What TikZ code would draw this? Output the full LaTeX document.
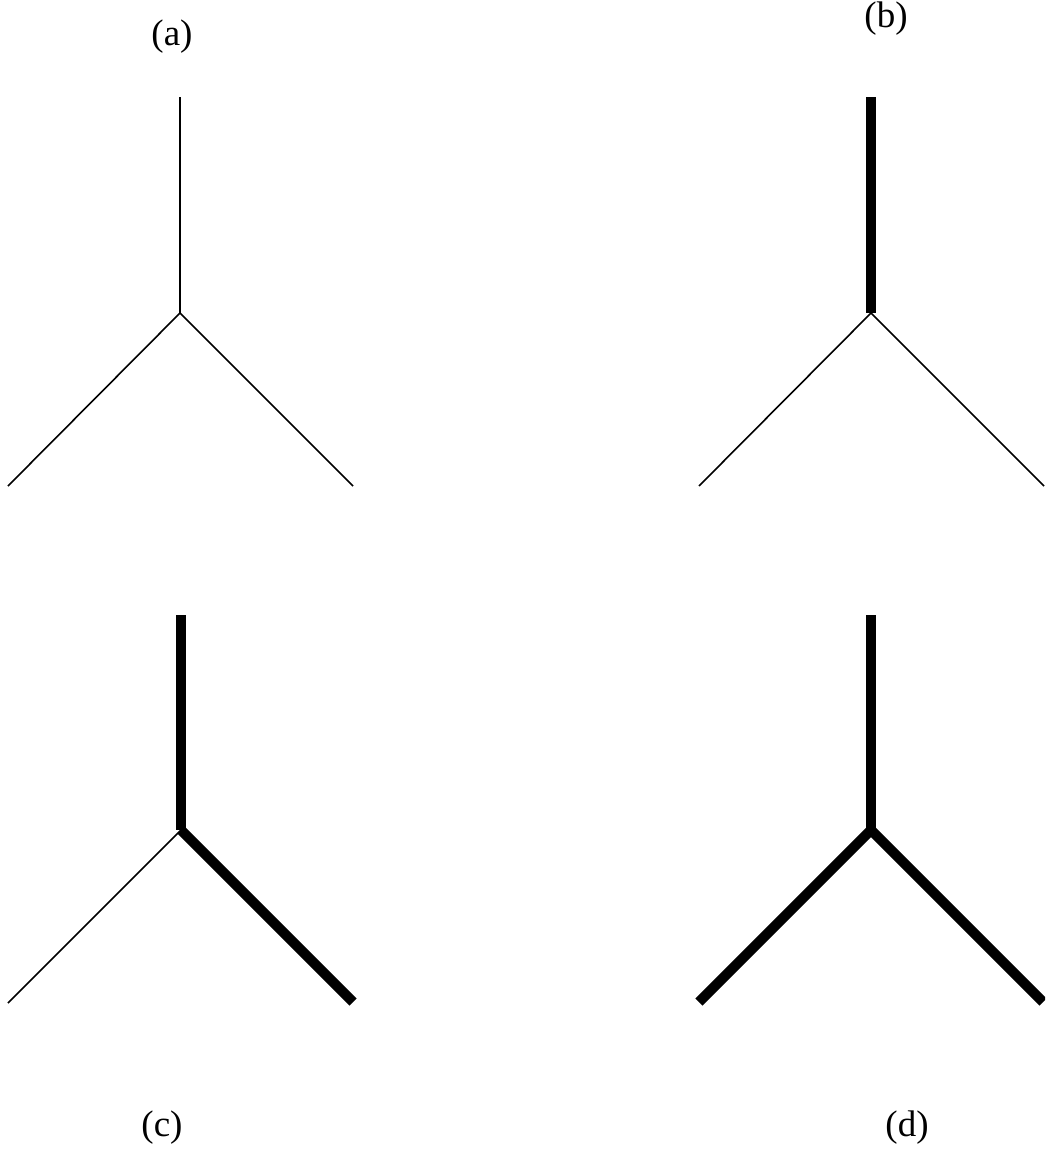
\documentclass[tikz,border=0pt]{standalone}
\usepackage{fontspec}
\setmainfont{Liberation Serif}
\begin{document}
\begin{tikzpicture}[x=1pt,y=-1pt,
  thinline/.style={line width=1.6pt},
  thickline/.style={line width=10pt, line cap=butt},
  lab/.style={font=\fontsize{37}{42}\selectfont, inner sep=0pt}]
\useasboundingbox (0,0) rectangle (1045,1162);
\clip (0,0) rectangle (1045,1162);
% tree a
\coordinate (aT) at (180,97); \coordinate (aJ) at (180,313);
\coordinate (aL) at (8,486); \coordinate (aR) at (353,486);
\draw[thinline] (aT) -- (aJ); \draw[thinline] (aJ) -- (aL); \draw[thinline] (aJ) -- (aR);
% tree b
\coordinate (bT) at (871,97); \coordinate (bJ) at (871,313);
\coordinate (bL) at (699,486); \coordinate (bR) at (1044,486);
\draw[thickline] (bT) -- (bJ); \draw[thinline] (bJ) -- (bL); \draw[thinline] (bJ) -- (bR);
% tree c
\coordinate (cT) at (181,615); \coordinate (cJ) at (181,830);
\coordinate (cL) at (8,1003); \coordinate (cR) at (353,1002);
\draw[thinline] (cJ) -- (cL);
\draw[thickline] (cT) -- (cJ); \draw[thickline] (cJ) -- (cR);
% tree d
\coordinate (dT) at (871,615); \coordinate (dJ) at (871,830);
\coordinate (dL) at (699,1002); \coordinate (dR) at (1043,1002);
\draw[thickline] (dT) -- (dJ); \draw[thickline] (dJ) -- (dL); \draw[thickline] (dJ) -- (dR);
% labels
\node[lab] (la) at (172,37) {(a)};
\node[lab] (lb) at (886,19) {(b)};
\node[lab] (lc) at (162,1128) {(c)};
\node[lab] (ld) at (907,1128) {(d)};
\end{tikzpicture}
\end{document}
